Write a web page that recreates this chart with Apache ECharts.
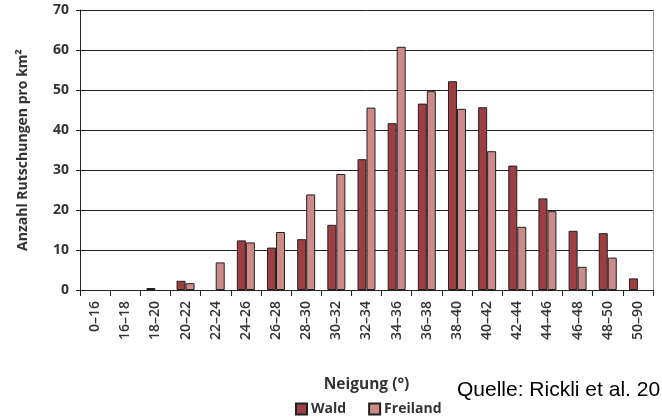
<!DOCTYPE html>
<html>
<head>
<meta charset="utf-8">
<script src="https://cdn.jsdelivr.net/npm/echarts@6/dist/echarts.min.js"></script>
<style>html,body{margin:0;padding:0;background:#fff}#c{width:662px;height:420px}</style>
</head>
<body>
<div id="c"></div>
<script>
const categories = ['0–16','16–18','18–20','20–22','22–24','24–26','26–28','28–30','30–32','32–34','34–36','36–38','38–40','40–42','42–44','44–46','46–48','48–50','50–90'];
const wald =     [0, 0, 0.5, 2.3, 0, 12.4, 10.6, 12.7, 16.3, 32.7, 41.7, 46.6, 52.2, 45.7, 31.1, 22.9, 14.8, 14.2, 2.9];
const freiland = [0, 0, 0, 1.7, 6.9, 11.9, 14.5, 23.9, 29.0, 45.6, 60.8, 49.7, 45.3, 34.7, 15.8, 19.7, 5.8, 8.1, 0];
const yTicks = [0, 10, 20, 30, 40, 50, 60, 70];

// zero values are not drawn as bars in the reference
const noZero = arr => arr.map(v => v === 0 ? '-' : v);

const chart = echarts.init(document.getElementById('c'), null, {renderer: 'canvas'});
const txt = '#333';
const font = '"Open Sans", sans-serif';
chart.setOption({
  animation: false,
  textStyle: {fontFamily: font},
  grid: {left: 80, right: 9, top: 10, bottom: 130, containLabel: false},
  title: {
    text: 'Quelle: Rickli et al. 20',
    left: 452, top: 375,
    textStyle: {fontFamily: '"Liberation Sans", Arial, sans-serif', fontSize: 21, fontWeight: 'normal', color: '#000'}
  },
  legend: {
    data: ['Wald', 'Freiland'],
    left: 290, top: 397,
    icon: 'rect', itemWidth: 11, itemHeight: 11, itemGap: 22,
    textStyle: {fontFamily: font, fontSize: 14, fontWeight: 'bold', color: txt, padding: [0, 0, 0, -1]}
  },
  xAxis: {
    type: 'category',
    data: categories,
    name: 'Neigung (°)',
    nameLocation: 'middle',
    nameGap: 87,
    nameTextStyle: {fontFamily: font, fontSize: 15.5, fontWeight: 'bold', color: txt},
    axisLine: {lineStyle: {color: '#222', width: 1}},
    axisTick: {show: true, length: 6, lineStyle: {color: '#222'}},
    axisLabel: {rotate: 90, margin: 11, fontSize: 14, fontWeight: 600, color: txt, fontFamily: font, interval: 0}
  },
  yAxis: [{
    type: 'value',
    min: 0, max: 70, interval: 10,
    name: 'Anzahl Rutschungen pro km²',
    nameLocation: 'middle',
    nameGap: 50,
    nameRotate: 90,
    nameTextStyle: {fontFamily: font, fontSize: 14, fontWeight: 'bold', color: txt},
    axisLine: {show: true, lineStyle: {color: '#222', width: 1}},
    axisTick: {show: true, length: 4, lineStyle: {color: '#222'}},
    axisLabel: {fontSize: 14, fontWeight: 'bold', color: txt, margin: 11,
      formatter: v => yTicks.includes(v) ? String(v) : ''},
    splitLine: {show: true, lineStyle: {color: '#222', width: 1}}
  }, {
    type: 'value',
    min: 0, max: 70, interval: 10,
    position: 'right',
    axisLine: {show: true, lineStyle: {color: '#999', width: 1}},
    axisTick: {show: false},
    axisLabel: {show: false},
    splitLine: {show: false}
  }],
  series: [{
    name: 'Wald', type: 'bar', data: noZero(wald),
    barWidth: 9, barGap: '0%',
    itemStyle: {color: '#9c3e42', borderColor: '#222', borderWidth: 1}
  }, {
    name: 'Freiland', type: 'bar', data: noZero(freiland),
    barWidth: 9,
    itemStyle: {color: '#cc8a88', borderColor: '#222', borderWidth: 1}
  }]
});
</script>
</body>
</html>
